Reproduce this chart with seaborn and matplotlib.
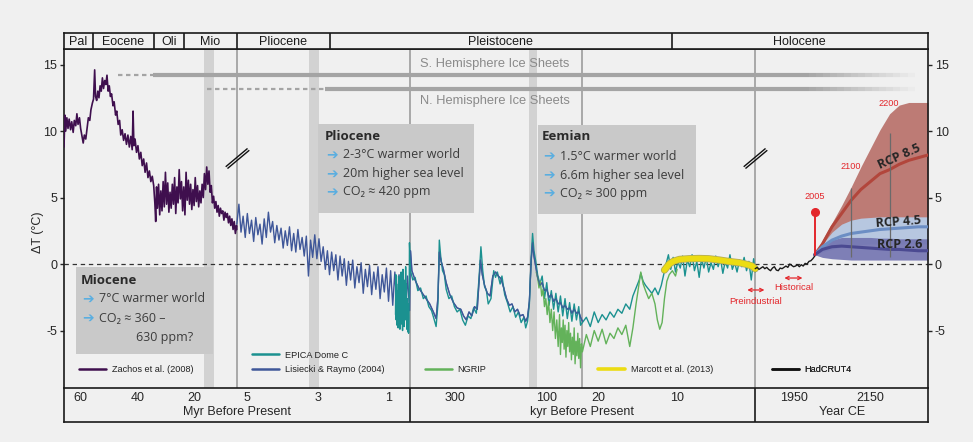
import numpy as np
import matplotlib
matplotlib.use("Agg")
import matplotlib.pyplot as plt
from matplotlib.lines import Line2D
from matplotlib.patches import Rectangle
from matplotlib.path import Path
import seaborn as sns

# ---------------- data ----------------
# Zachos et al. (2008), Myr before present
zachos_myr = [65.6, 65.3, 65.0, 64.6, 64.2, 63.8, 63.3, 62.9, 62.4, 62.0,
              61.5, 61.1, 60.7, 60.2, 59.8, 59.3, 58.9, 58.5, 58.0, 57.5,
              57.1, 56.6, 56.2, 55.7, 55.3, 54.9, 54.6, 54.2, 53.8, 53.4,
              53.0, 52.6, 52.2, 51.8, 51.4, 51.0, 50.6, 50.2, 49.8, 49.4,
              49.0, 48.5, 48.1, 47.6, 47.2, 46.7, 46.2, 45.8, 45.3, 44.8,
              44.3, 43.8, 43.3, 42.8, 42.3, 41.8, 41.5, 41.2, 40.8, 40.3,
              39.8, 39.3, 38.8, 38.3, 37.8, 37.3, 36.8, 36.3, 35.8, 35.3,
              34.8, 34.3, 33.9, 33.6, 33.3, 33.0, 32.6, 32.2, 31.8, 31.4,
              31.0, 30.6, 30.2, 29.8, 29.4, 29.0, 28.6, 28.2, 27.8, 27.4,
              27.0, 26.6, 26.2, 25.8, 25.4, 25.0, 24.6, 24.2, 23.8, 23.4,
              23.0, 22.6, 22.2, 21.8, 21.4, 21.0, 20.6, 20.2, 19.8, 19.4,
              19.0, 18.6, 18.2, 17.8, 17.4, 17.0, 16.6, 16.2, 15.8, 15.4,
              15.0, 14.6, 14.2, 13.8, 13.4, 13.0, 12.6, 12.2, 11.8, 11.4,
              11.0, 10.6, 10.2, 9.8, 9.4, 9.0, 8.6, 8.2, 7.8, 7.4,
              7.0, 6.6, 6.2, 5.8, 5.4, 5.3]
zachos_dt = [8.8, 11.2, 10.0, 11.0, 10.2, 10.9, 10.1, 10.7, 9.9, 10.8,
             10.4, 11.3, 10.5, 11.0, 10.2, 9.6, 9.1, 9.7, 9.4, 10.3,
             11.0, 10.8, 11.6, 12.1, 12.4, 14.6, 12.6, 12.3, 13.0, 12.5,
             13.4, 13.0, 14.0, 13.2, 13.8, 13.5, 14.2, 13.0, 13.4, 12.6,
             12.8, 11.9, 12.2, 11.2, 11.5, 10.5, 10.8, 9.7, 10.1, 9.3,
             9.8, 9.0, 9.7, 8.8, 9.6, 8.6, 11.5, 8.9, 9.4, 8.4,
             8.9, 7.9, 8.4, 7.4, 7.9, 6.9, 7.6, 6.5, 7.0, 6.2,
             6.6, 5.9, 4.6, 3.2, 5.8, 4.2, 6.0, 3.7, 5.5, 4.0,
             6.2, 4.3, 6.9, 4.5, 6.1, 3.9, 5.4, 4.2, 6.0, 4.5,
             6.5, 3.8, 5.8, 4.6, 7.1, 4.9, 6.2, 4.0, 5.8, 3.7,
             6.9, 4.8, 6.3, 4.5, 6.0, 4.1, 5.6, 4.4, 6.5, 4.7,
             5.9, 4.3, 5.5, 4.6, 6.0, 5.0, 6.8, 5.6, 7.3, 6.0,
             7.0, 5.4, 5.9, 4.6, 5.1, 4.2, 4.7, 3.9, 4.4, 3.6,
             4.2, 3.8, 4.0, 3.3, 3.9, 3.5, 3.8, 3.1, 3.6, 2.9,
             3.4, 2.6, 3.2, 2.3, 2.9, 2.6]

# Lisiecki & Raymo (2004), evenly sampled 5.3 -> 0.4 Myr
lr_plio_dt = [3.0, 4.5, 2.4, 3.6, 2.0, 3.8, 2.3, 3.3, 1.7, 3.5,
              2.2, 3.0, 1.5, 3.4, 2.0, 3.9, 2.4, 3.2, 1.6, 2.9,
              1.8, 2.7, 1.2, 2.5, 1.4, 2.8, 1.0, 2.3, 0.9, 2.6,
              1.1, 2.0, 0.6, 2.1, -0.9, 1.8, 0.5, 2.2, 0.4, 1.9,
              0.2, 1.3, -0.4, 1.0, -0.8, 0.9, -0.5, 0.7, -1.2, 0.6,
              -0.9, 0.4, -1.6, 0.2, -1.2, 0.3, -1.8, -0.2, -1.4, 0.1,
              -2.2, -0.4, -1.7, -0.1, -2.3, -0.6, -1.9, -0.2, -2.6, -0.8,
              -2.1, -0.3, -2.8, -0.5, -3.1, -0.6, -3.4, -0.8, -3.7, -1.0,
              -3.9, -0.9, -3.5]
# Lisiecki & Raymo (2004), kyr before present
lr_kyr = [398, 395, 388, 380, 372, 364, 356, 348, 342, 338,
          335, 331, 326, 320, 312, 304, 296, 288, 282, 276,
          270, 264, 258, 252, 248, 245, 241, 236, 230, 224,
          218, 212, 206, 200, 194, 188, 182, 176, 170, 164,
          158, 152, 146, 142, 138, 134, 131, 128, 124, 120,
          115, 110, 105, 100, 95, 90, 85, 80, 75, 70,
          65, 60, 55, 50, 45, 40, 35, 30, 26, 22]
lr_kyr_dt = [1.0, -0.5, -1.2, -1.8, -2.2, -2.6, -3.0, -3.6, -4.1, -2.5,
             0.9, 0.2, -0.4, -1.4, -2.3, -2.9, -3.3, -3.4, -3.9, -4.2,
             -3.6, -3.9, -3.2, -3.4, -1.3, 0.3, -0.8, -1.6, -2.2, -2.4,
             -0.9, -0.6, -0.9, -1.1, -1.8, -2.6, -3.1, -3.0, -3.6, -3.4,
             -3.9, -3.8, -4.3, -4.0, -2.8, 0.3, 1.6, 0.6, -0.2, -1.0,
             -1.6, -1.4, -2.0, -1.9, -2.5, -2.3, -2.8, -2.6, -3.0, -2.9,
             -3.3, -3.1, -3.4, -3.3, -3.7, -3.4, -3.7, -3.6, -4.0, -4.3]

# EPICA Dome C, kyr before present
epica_kyr = [800, 790, 780, 770, 755, 740, 725, 712, 700, 688,
             675, 662, 650, 640, 628, 615, 600, 588, 575, 562,
             550, 538, 525, 512, 500, 490, 478, 466, 452, 440,
             428, 418, 410, 404, 398, 393, 388, 382, 376, 370,
             364, 358, 352, 346, 342, 338, 335, 332, 328, 324,
             320, 314, 308, 302, 296, 290, 284, 278, 272, 266,
             260, 254, 248, 244, 240, 236, 232, 228, 222, 216,
             212, 208, 202, 198, 192, 186, 180, 174, 168, 162,
             156, 150, 146, 142, 138, 134, 131, 128, 124, 120,
             115, 110, 105, 100, 95, 90, 85, 80, 75, 70,
             65, 60, 55, 50, 45, 40, 35, 30, 26, 22,
             21.5, 21.0, 20.5, 20.0, 19.5, 19.0, 18.5, 18.0, 17.5, 17.0,
             16.5, 16.0, 15.6, 15.2, 14.8, 14.6, 14.3, 14.0, 13.6, 13.2,
             12.8, 12.4, 12.0, 11.7, 11.4, 11.1, 10.8, 10.5, 10.2, 9.9,
             9.6, 9.3, 9.0, 8.7, 8.4, 8.1, 7.8, 7.5, 7.2, 6.9,
             6.6, 6.3, 6.0, 5.7, 5.4, 5.1, 4.8, 4.5, 4.2, 3.9,
             3.6, 3.3, 3.0, 2.7, 2.4, 2.1, 1.8, 1.5, 1.2, 0.9,
             0.6, 0.3, 0.1]
epica_dt = [-3.8, -0.8, -4.2, -1.5, -4.6, -2.0, -4.8, -0.9, -4.4, -2.2,
            -4.9, -1.0, -3.9, -0.6, -4.5, -1.8, -5.0, -0.4, -3.6, -1.2,
            -4.7, -1.9, -4.2, -0.2, -3.5, -1.5, -4.9, -2.6, -5.1, -3.0,
            -5.2, -4.0, -1.5, 1.6, -0.5, -1.2, -1.0, -2.0, -1.8, -2.6,
            -2.4, -3.2, -3.5, -4.2, -4.7, -3.0, 1.8, 0.6, -0.5, -0.8,
            -1.9, -2.6, -2.4, -3.2, -3.6, -3.4, -4.2, -4.6, -3.9, -4.1,
            -3.3, -3.7, -1.0, 1.3, -0.5, -1.7, -2.0, -3.0, -2.6, -0.5,
            -1.0, -0.6, -1.5, -0.9, -2.3, -2.9, -3.6, -3.2, -4.0, -3.6,
            -4.4, -4.0, -4.8, -4.3, -3.0, 0.5, 2.3, 1.0, 0.2, -0.8,
            -1.5, -0.9, -2.6, -1.4, -3.1, -2.0, -3.4, -2.2, -3.6, -2.4,
            -3.9, -2.6, -4.1, -2.9, -4.3, -3.0, -4.2, -3.2, -4.6, -4.4,
            -4.0, -4.7, -3.6, -4.4, -3.8, -4.2, -3.6, -4.0, -3.4, -3.7,
            -3.0, -3.4, -2.4, -1.8, -1.2, -0.7, -1.3, -1.6, -1.9, -2.2,
            -1.8, -2.3, -1.6, -0.8, 0.0, 0.7, -0.4, 0.5, -0.6, 0.2,
            -0.3, 0.6, -0.9, 0.3, -0.2, 0.7, -0.5, 0.2, -1.0, 0.4,
            -0.3, 0.5, -0.6, 0.1, -0.4, 0.6, -0.2, 0.4, -0.7, 0.2,
            -0.3, 0.7, -0.4, 0.1, -0.6, 0.3, -0.2, 0.5, -0.5, 0.2,
            -1.2, 0.4, -0.6]

# NGRIP, kyr before present
ngrip_kyr = [123, 120, 117, 114, 111, 108, 105, 102, 99, 96,
             93, 90, 87, 84, 81, 78, 75, 72, 70, 68,
             66, 64, 62, 60, 58, 56, 54, 52, 50, 48,
             46, 44, 42, 40, 38, 36, 34, 32, 30, 28,
             26, 24, 22, 21.5, 21.0, 20.5, 20.0, 19.5, 19.0, 18.5,
             18.0, 17.5, 17.0, 16.5, 16.0, 15.6, 15.2, 14.9, 14.6, 14.3,
             14.0, 13.6, 13.2, 12.8, 12.5, 12.2, 11.9, 11.6, 11.3, 11.0,
             10.6, 10.2, 10.0]
ngrip_dt = [-0.6, -1.0, -1.8, -1.3, -2.4, -1.9, -3.2, -2.6, -3.8, -2.8,
            -4.4, -3.4, -5.0, -3.6, -5.6, -4.2, -6.2, -3.8, -6.8, -4.8,
            -5.9, -4.2, -6.4, -4.6, -7.0, -5.0, -6.2, -4.4, -6.6, -5.2,
            -7.2, -5.5, -6.8, -4.8, -7.5, -5.8, -6.9, -5.2, -7.1, -5.6,
            -7.8, -6.0, -6.6, -5.3, -6.2, -5.0, -5.8, -4.9, -6.0, -5.2,
            -5.6, -4.8, -5.3, -4.6, -6.2, -4.8, -3.0, -1.8, -0.6, -1.5,
            -2.0, -2.6, -2.2, -3.0, -4.2, -4.9, -4.4, -2.6, -1.3, -0.8,
            -0.5, -0.9, -0.4]

# Marcott et al. (2013), kyr before present
marcott_kyr = [11.6, 11.0, 10.5, 9.7, 8.5, 7.2, 6.0, 4.6, 3.5, 2.1, 1.0, 0.5, 0.1]
marcott_dt = [-0.45, 0.0, 0.2, 0.35, 0.4, 0.42, 0.4, 0.3, 0.2, 0.1, -0.05, -0.15, -0.35]

# HadCRUT4, year CE
had_year = list(range(1850, 2010, 5))
had_dt = [-0.35, -0.25, -0.4, -0.3, -0.2, -0.35, -0.25, -0.4, -0.5, -0.3,
          -0.2, -0.45, -0.5, -0.3, -0.35, -0.25, -0.15, -0.25, 0.0, -0.1,
          -0.2, -0.15, -0.05, -0.2, -0.05, -0.15, 0.05, 0.0, 0.2, 0.25,
          0.4, 0.6]

# RCP projections, year CE
rcp_year = [2005, 2025, 2050, 2075, 2100, 2125, 2150, 2175, 2200, 2225, 2250, 2275, 2300]
rcp85_hi = [0.7, 1.8, 3.1, 4.4, 5.8, 7.3, 8.7, 10.1, 11.3, 11.95, 12.15, 12.15, 12.15]
rcp85_lo = [0.7, 1.1, 1.8, 2.5, 3.0, 3.3, 3.4, 3.5, 3.5, 3.5, 3.5, 3.5, 3.5]
rcp85_mid = [0.7, 1.5, 2.8, 3.8, 4.8, 5.6, 6.2, 6.8, 7.1, 7.5, 7.8, 8.0, 8.2]
rcp45_hi = [0.7, 1.5, 2.4, 3.0, 3.3, 3.45, 3.5, 3.55, 3.55, 3.55, 3.55, 3.55, 3.55]
rcp45_lo = [0.7, 0.9, 1.1, 1.3, 1.4, 1.45, 1.5, 1.5, 1.5, 1.5, 1.5, 1.5, 1.5]
rcp45_mid = [0.7, 1.3, 1.8, 2.1, 2.3, 2.4, 2.5, 2.6, 2.65, 2.7, 2.75, 2.8, 2.8]
rcp26_hi = [0.7, 1.3, 1.8, 2.0, 2.0, 2.0, 2.0, 1.95, 1.95, 1.9, 1.9, 1.9, 1.9]
rcp26_lo = [0.7, 0.5, 0.4, 0.35, 0.3, 0.3, 0.3, 0.3, 0.3, 0.3, 0.3, 0.3, 0.3]
rcp26_mid = [0.7, 1.1, 1.3, 1.35, 1.3, 1.25, 1.2, 1.15, 1.1, 1.1, 1.05, 1.0, 1.0]

# ice sheets: level, dashed onset (Myr), solid onset (Myr)
ice_labels = ["S. Hemisphere Ice Sheets", "N. Hemisphere Ice Sheets"]
ice_level = [14.2, 13.15]
ice_dash_myr = [46.8, 15.7]
ice_solid_myr = [34.6, 2.8]
ice_fade_year = (1990, 2265)

# warm periods (shaded)
miocene_band_myr = (16.8, 13.3)
pliocene_band_myr = (3.26, 2.98)
eemian_band_kyr = (138, 121)

epoch_names = ["Pal", "Eocene", "Oli", "Mio", "Pliocene", "Pleistocene", "Holocene"]

# ---------------- piecewise time axis ----------------
def myr(v):
    return 1950 - np.asarray(v, dtype=float) * 1e6


def kyr(v):
    return 1950 - np.asarray(v, dtype=float) * 1e3


T_BREAKS = np.array([myr(65.6), myr(5.3), myr(0.4), kyr(22), 1850.0, 2300.0])
U_BREAKS = np.arange(6.0)


def fwd(t):
    return np.interp(t, T_BREAKS, U_BREAKS)


def inv(u):
    return np.interp(u, U_BREAKS, T_BREAKS)


epoch_edges = [myr(65.6), myr(55.5), myr(34.2), myr(23.8), myr(5.3), myr(2.67), kyr(10.7), 2300.0]

xt_pos = list(myr([60, 50, 40, 30, 20, 10, 5, 4, 3, 2, 1])) + \
    list(kyr([300, 200, 100, 20, 15, 10, 5])) + [1950, 2050, 2150, 2250]
xt_lab = ["60", "", "40", "", "20", "", "5", "", "3", "", "1",
          "300", "", "100", "20", "", "10", "",
          "1950", "", "2150", ""]

# ---------------- styling ----------------
sns.set_style("white")
plt.rcParams["font.family"] = ["Liberation Sans", "DejaVu Sans"]
BOXFONT = ["Open Sans", "DejaVu Sans"]
BG = "#f0f0f0"
RED = "#e3262b"
ICE = "#a4a4a4"
C_ZACHOS = "#3f0f4e"
C_LR = "#3f5799"
C_EPICA = "#1b9190"
C_NGRIP = "#63b25a"
C_MARCOTT = "#ecdc12"
W, H = 973, 442

fig = plt.figure(figsize=(W / 100, H / 100), dpi=100, facecolor=BG)


def rect(x0, y0, x1, y1):
    return [x0 / W, 1 - y1 / H, (x1 - x0) / W, (y1 - y0) / H]


ax = fig.add_axes(rect(64, 49, 928, 388))
ax_top = fig.add_axes(rect(64, 33, 928, 49))
ax_bot = fig.add_axes(rect(64, 388, 928, 422))
for a in (ax, ax_top, ax_bot):
    a.set_xscale("function", functions=(fwd, inv))
    a.set_xlim(T_BREAKS[0], T_BREAKS[-1])
    for s in a.spines.values():
        s.set_color("#1a1a1a")
        s.set_linewidth(1.2)
ax.set_facecolor(BG)
ax_top.set_facecolor(BG)
ax_bot.set_facecolor("none")

YLO, YHI = -9.32, 16.17
ax.set_ylim(YLO, YHI)

# background structure
for a, b in [myr(miocene_band_myr), myr(pliocene_band_myr), kyr(eemian_band_kyr)]:
    ax.axvspan(a, b, color="#d2d2d2", lw=0, zorder=0.5)
for t in T_BREAKS[1:5]:
    ax.axvline(t, color="#a3a3a3", lw=1.3, zorder=0.8)
ax.axhline(0, color="#333333", lw=0.9, ls=(0, (3.5, 3)), zorder=1.5)

# ice sheets
fade_t = np.linspace(*ice_fade_year, 16)
for lev, d0, s0 in zip(ice_level, ice_dash_myr, ice_solid_myr):
    ax.plot(myr([d0, s0]), [lev, lev], color=ICE, lw=1.6, ls=(0, (2, 1.6)), zorder=2)
    ax.plot([myr(s0), fade_t[0]], [lev, lev], color=ICE, lw=3, solid_capstyle="butt", zorder=2)
    for i in range(len(fade_t) - 1):
        ax.plot(fade_t[i:i + 2], [lev, lev], color=ICE, lw=3, solid_capstyle="butt",
                alpha=1 - (i + 1) / len(fade_t), zorder=2)
ax.text(kyr(214), 15.04, ice_labels[0], color="#8a8a8a", fontsize=9.3, ha="center", va="center", zorder=4)
ax.text(kyr(214), 12.26, ice_labels[1], color="#8a8a8a", fontsize=9.3, ha="center", va="center", zorder=4)

# ---------------- records ----------------
lr_t = np.concatenate([myr(np.linspace(5.3, 0.4, len(lr_plio_dt))), kyr(lr_kyr)])
lr_v = np.concatenate([lr_plio_dt, lr_kyr_dt])

series = [
    (myr(zachos_myr), zachos_dt, C_ZACHOS, 1.2),
    (lr_t, lr_v, C_LR, 1.0),
    (kyr(epica_kyr), epica_dt, C_EPICA, 1.0),
    (kyr(ngrip_kyr), ngrip_dt, C_NGRIP, 1.0),
]
for t, v, c, lw in series:
    sns.lineplot(x=np.asarray(t), y=np.asarray(v, dtype=float), ax=ax, color=c, lw=lw,
                 sort=False, estimator=None, zorder=3)
# the Lisiecki curve sits on top of EPICA in the glacial cycles
sns.lineplot(x=kyr(lr_kyr), y=np.asarray(lr_kyr_dt), ax=ax, color=C_LR, lw=0.9,
             sort=False, estimator=None, alpha=0.8, zorder=3.2)
sns.lineplot(x=kyr(marcott_kyr), y=np.asarray(marcott_dt), ax=ax, color="#b5ad55", lw=5.2,
             sort=False, estimator=None, zorder=3.4)
sns.lineplot(x=kyr(marcott_kyr), y=np.asarray(marcott_dt), ax=ax, color=C_MARCOTT, lw=4,
             sort=False, estimator=None, zorder=3.5)
sns.lineplot(x=np.asarray(had_year), y=np.asarray(had_dt), ax=ax, color="#1a1a1a", lw=1.0,
             sort=False, estimator=None, zorder=3.5)

# RCP projections
ax.fill_between(rcp_year, rcp85_lo, rcp85_hi, color="#bd7b75", lw=0, zorder=2.2)
ax.fill_between(rcp_year, rcp45_lo, rcp45_hi, color="#b7c7e0", lw=0, zorder=2.3)
ax.fill_between(rcp_year, rcp26_lo, rcp26_hi, color="#7273b0", lw=0, alpha=0.9, zorder=2.4)
sns.lineplot(x=rcp_year, y=rcp85_mid, ax=ax, color="#b2463c", lw=2.2, sort=False, estimator=None, zorder=2.6)
sns.lineplot(x=rcp_year, y=rcp45_mid, ax=ax, color="#6c8ec4", lw=2.2, sort=False, estimator=None, zorder=2.6)
sns.lineplot(x=rcp_year, y=rcp26_mid, ax=ax, color="#4b4a91", lw=2.2, sort=False, estimator=None, zorder=2.6)
ax.vlines([2100, 2200], 0.5, [5.7, 9.85], color="#6a6a6a", lw=0.9, zorder=5)
ax.text(2224, 8.1, "RCP 8.5", rotation=24, fontsize=9, fontweight="bold", family=BOXFONT,
        ha="center", va="center", zorder=6)
ax.text(2224, 3.2, "RCP 4.5", rotation=4, fontsize=9, fontweight="bold", family=BOXFONT,
        ha="center", va="center", zorder=6)
ax.text(2227, 1.5, "RCP 2.6", fontsize=9, fontweight="bold", family=BOXFONT,
        ha="center", va="center", zorder=6)

# red annotations
ax.plot([2005, 2005], [0.7, 3.9], color=RED, lw=1.4, zorder=7)
ax.plot([2005], [3.9], "o", color=RED, ms=5.5, zorder=7)
ax.text(2005, 5.1, "2005", color=RED, fontsize=6.6, ha="center", va="center")
ax.text(2100, 7.3, "2100", color=RED, fontsize=6.6, ha="center", va="center")
ax.text(2198, 12.1, "2200", color=RED, fontsize=6.6, ha="center", va="center")
arrow = dict(arrowstyle="<->", color=RED, lw=0.9, shrinkA=0, shrinkB=0, mutation_scale=6)
ax.annotate("", xy=(1874, -1.95), xytext=(kyr(1.1), -1.95), arrowprops=arrow)
ax.annotate("", xy=(1973, -1.05), xytext=(1926, -1.05), arrowprops=arrow)
ax.text(1850, -2.8, "Preindustrial", color=RED, fontsize=6.8, ha="center", va="center")
ax.text(1950, -1.8, "Historical", color=RED, fontsize=6.8, ha="center", va="center")

# axis break marks
brk = Path([(-1.0, -0.7), (0.85, 0.85), (-0.85, -0.85), (1.0, 0.7)],
           [Path.MOVETO, Path.LINETO, Path.MOVETO, Path.LINETO])
ax.plot([T_BREAKS[1], T_BREAKS[4]], [8.0, 8.0], ls="none", marker=brk, ms=17,
        mfc="none", mec="#111111", mew=1.0, zorder=6)


# ---------------- info boxes ----------------
def px2ax(x, y):
    return (x - 64) / 864, (388 - y) / 339


def info_box(x0, y0, x1, y1, title, title_xy, arrow_x, text_x, lines, extra=None):
    ax0, ay1 = px2ax(x0, y1)
    ax1, ay0 = px2ax(x1, y0)
    ax.add_patch(Rectangle((ax0, ay1), ax1 - ax0, ay0 - ay1, transform=ax.transAxes,
                           facecolor="#c9c9c9", edgecolor="none", zorder=5))
    tx, ty = px2ax(*title_xy)
    ax.text(tx, ty, title, transform=ax.transAxes, fontsize=9.5, fontweight="bold",
            family=BOXFONT, color="#2a2a2a", va="center", zorder=6)
    for txt, yy in lines:
        axx, ayy = px2ax(arrow_x, yy)
        ax.text(axx, ayy, "➔", transform=ax.transAxes, fontsize=10, family=["DejaVu Sans"],
                color="#5aaee0", va="center", zorder=6)
        bx, _ = px2ax(text_x, yy)
        ax.text(bx, ayy, txt, transform=ax.transAxes, fontsize=9, family=BOXFONT,
                color="#3c3c3c", va="center", zorder=6)
    if extra:
        ex, ey = px2ax(*extra[1])
        ax.text(ex, ey, extra[0], transform=ax.transAxes, fontsize=9, family=BOXFONT,
                color="#3c3c3c", va="center", zorder=6)


info_box(318, 124, 474, 213, "Pliocene", (325, 137), 326, 343,
         [("2-3°C warmer world", 155), ("20m higher sea level", 174), ("CO₂ ≈ 420 ppm", 192)])
info_box(538, 125, 696, 214, "Eemian", (542, 137), 543, 560,
         [("1.5°C warmer world", 156), ("6.6m higher sea level", 175), ("CO₂ ≈ 300 ppm", 193)])
info_box(76, 267, 213, 354, "Miocene", (81, 281), 82, 99,
         [("7°C warmer world", 299), ("CO₂ ≈ 360 –", 318)], extra=("630 ppm?", (136, 337)))


# ---------------- legend entries ----------------
def add_legend(label, color, x, y, lw=1.8):
    h = Line2D([], [], color=color, lw=lw)
    fx, fy = px2ax(x, y)
    leg = ax.legend([h], [label], loc="center left", bbox_to_anchor=(fx, fy),
                    frameon=False, fontsize=6.6, handlelength=2.9, handletextpad=0.65,
                    borderpad=0, borderaxespad=0)
    for t in leg.get_texts():
        t.set_color("#222222")
    ax.add_artist(leg)


add_legend("Zachos et al. (2008)", C_ZACHOS, 79, 370)
add_legend("EPICA Dome C", C_EPICA, 252, 355)
add_legend("Lisiecki & Raymo (2004)", C_LR, 252, 370)
add_legend("NGRIP", C_NGRIP, 425, 370)
add_legend("Marcott et al. (2013)", C_MARCOTT, 598, 370, lw=2.6)
add_legend("HadCRUT4", "#111111", 772, 370)

# ---------------- ticks ----------------
ax.set_xticks(xt_pos, xt_lab)
ax.xaxis.set_minor_locator(matplotlib.ticker.NullLocator())
ax.tick_params(axis="x", direction="in", length=4, width=1, labelsize=9, pad=3,
               colors="#1a1a1a", labelcolor="#262626")
ax.set_yticks([15, 10, 5, 0, -5], ["15", "10", "5", "0", "-5"])
ax.tick_params(axis="y", direction="out", length=3, width=1, labelsize=9, pad=2,
               left=True, right=True, labelleft=True, labelright=True, labelcolor="#262626")
ax.set_xlabel("")
ax.set_ylabel("")
fig.text(38 / W, 1 - 232 / H, "ΔT (°C)", rotation=90, ha="center", va="center",
         fontsize=9, color="#262626")

# epoch band
ax_top.set_ylim(0, 1)
ax_top.set_xticks([])
ax_top.set_yticks([])
for e in epoch_edges[1:-1]:
    ax_top.axvline(e, color="#1a1a1a", lw=1.2)
for name, a, b in zip(epoch_names, epoch_edges[:-1], epoch_edges[1:]):
    mid = inv((fwd(a) + fwd(b)) / 2)
    ax_top.text(mid, 0.45, name, ha="center", va="center", fontsize=9, color="#1a1a1a")

# bottom band
ax_bot.set_ylim(0, 1)
ax_bot.set_xticks([])
ax_bot.set_yticks([])
ax_bot.spines["top"].set_visible(False)
for t in (T_BREAKS[2], T_BREAKS[4]):
    ax_bot.axvline(t, color="#1a1a1a", lw=1.2)
for txt, t in [("Myr Before Present", T_BREAKS[1]), ("kyr Before Present", T_BREAKS[3]),
               ("Year CE", 2075)]:
    ax_bot.text(t, 0.3, txt, ha="center", va="center", fontsize=9, color="#262626")

fig.savefig("out.png", dpi=100, facecolor=BG)
